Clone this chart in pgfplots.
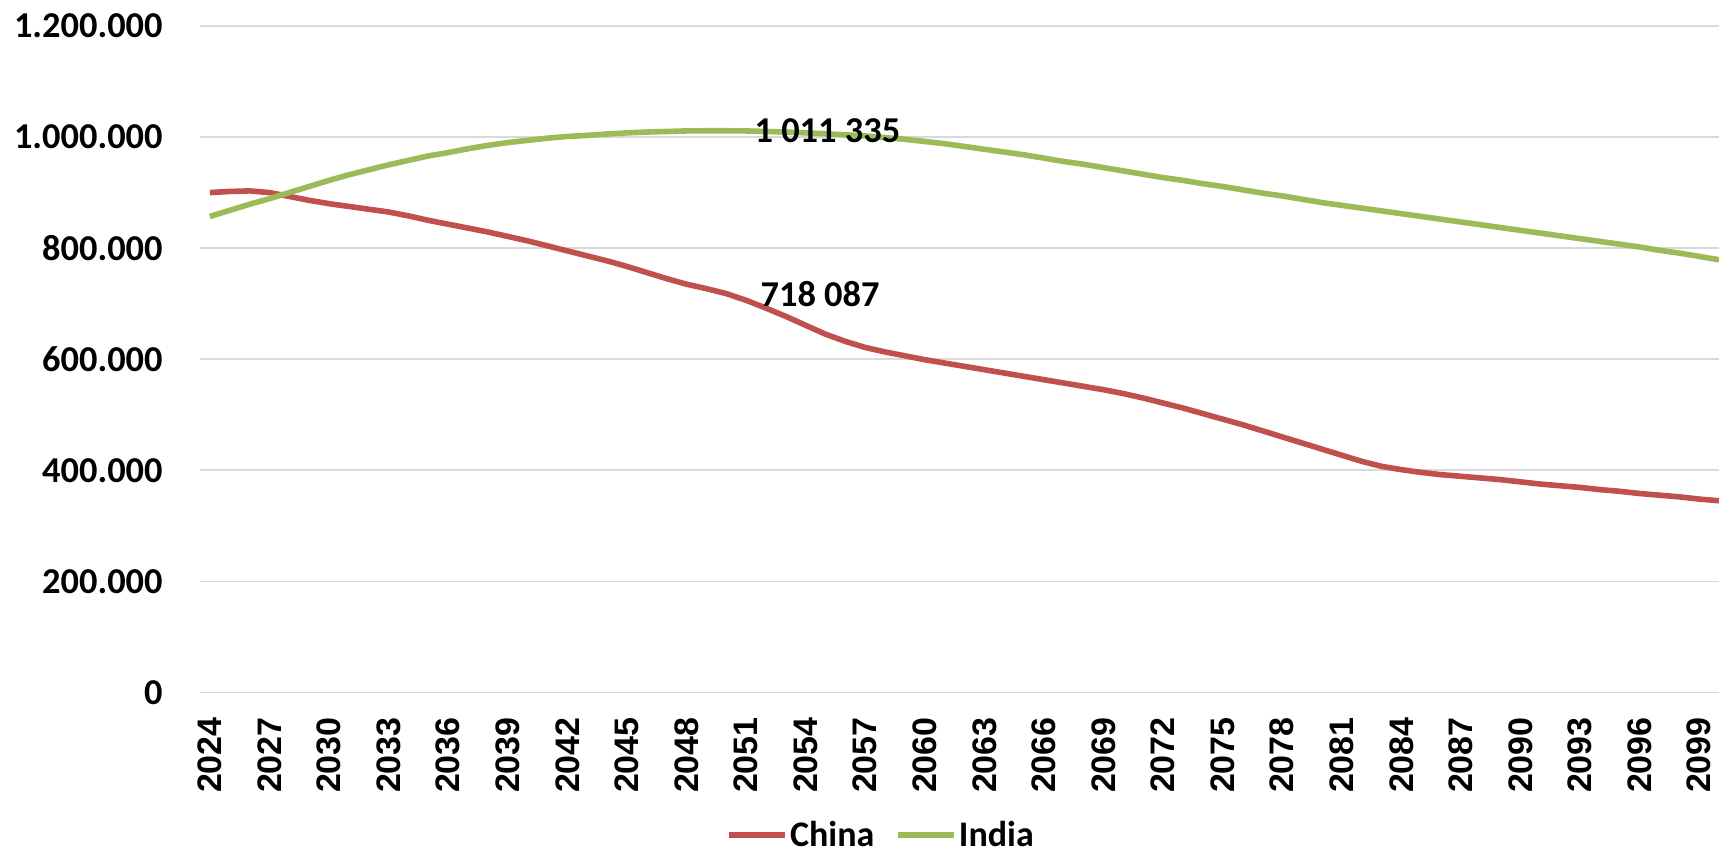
\documentclass[border=0pt]{standalone}
\usepackage{fontspec}
\setmainfont{Carlito}
\newfontfamily\arialfont{Liberation Sans}
\usepackage{pgfplots}
\pgfplotsset{compat=1.18}
\usepackage{pgfplotstable}

\definecolor{chinared}{HTML}{C0504D}
\definecolor{indiagreen}{HTML}{9BBB59}
\definecolor{gridgray}{HTML}{D9D9D9}

% population, thousands
\pgfplotstableread{
year china india
2024 900000 857000
2025 902000 868000
2026 903000 879000
2027 900000 889000
2028 893000 900000
2029 886000 911000
2030 880000 922000
2031 875000 932000
2032 870000 941000
2033 865000 950000
2034 858000 958000
2035 850000 966000
2036 843000 972000
2037 836000 979000
2038 829000 985000
2039 821000 990000
2040 813000 994000
2041 804000 998000
2042 795000 1001000
2043 786000 1003000
2044 777000 1005500
2045 767000 1007500
2046 756000 1009000
2047 745000 1010000
2048 735000 1011000
2049 727000 1011300
2050 718087 1011335
2051 706000 1011000
2052 692000 1010000
2053 677000 1009000
2054 661000 1007500
2055 645000 1006000
2056 632000 1004000
2057 621000 1002000
2058 613000 999000
2059 606000 996000
2060 599000 992000
2061 593000 988000
2062 587000 983000
2063 581000 978000
2064 575000 973000
2065 569000 968000
2066 563000 962000
2067 557000 956000
2068 551000 951000
2069 545000 945000
2070 538000 939000
2071 530000 933000
2072 521000 927000
2073 512000 922000
2074 502000 916000
2075 492000 911000
2076 482000 905000
2077 471000 899000
2078 460000 894000
2079 449000 888000
2080 438000 882000
2081 427000 877000
2082 416000 872000
2083 407000 867000
2084 401000 862000
2085 396000 857000
2086 392000 852000
2087 389000 847000
2088 386000 842000
2089 383000 837000
2090 379000 832000
2091 375000 827000
2092 372000 822000
2093 369000 817000
2094 365000 812000
2095 362000 807000
2096 358000 802000
2097 355000 796000
2098 352000 791000
2099 348000 785000
2100 345000 779000
}\popdata

\begin{document}
\begin{tikzpicture}
\useasboundingbox (0,0) rectangle (859.5bp,426.5bp);
\begin{axis}[
  at={(100bp,80.35bp)}, anchor=south west,
  scale only axis, width=759.5bp, height=333.15bp,
  xmin=2023.5, xmax=2100,
  ymin=0, ymax=1200000,
  xtick={2024,2027,...,2099},
  ytick={0,200000,...,1200000},
  scaled y ticks=false,
  axis line style={draw=none},
  major tick length=0pt,
  ymajorgrids,
  grid style={gridgray, line width=0.7bp},
  /pgf/number format/assume math mode=true,
  yticklabel style={font=\bfseries\fontsize{18.2bp}{20bp}\selectfont,
    /pgf/number format/.cd, fixed, precision=0, 1000 sep={.}, /tikz/.cd,
    anchor=east, inner sep=0pt, xshift=-18.5bp},
  xticklabel style={font=\arialfont\bfseries\fontsize{17bp}{19bp}\selectfont,
    /pgf/number format/1000 sep={},
    yshift=-12.3bp, rotate=90, anchor=east, inner sep=0pt},
  legend style={draw=none, fill=none, at={(axis description cs:0.3463,-0.2140)},
    anchor=west, legend columns=-1, inner sep=0pt,
    font=\bfseries\fontsize{18bp}{20bp}\selectfont,
    nodes={inner sep=1bp},
    /tikz/every even column/.append style={column sep=9.5bp}},
  legend image code/.code={\draw[#1, line width=2.8bp] (0bp,0bp) -- (28bp,0bp);},
]
\addplot[chinared, line width=2.8bp, line join=round] table[x=year, y=china] {\popdata};
\addlegendentry{China}
\addplot[indiagreen, line width=2.8bp, line join=round] table[x=year, y=india] {\popdata};
\addlegendentry{India}
\addplot[draw=none, forget plot, nodes near coords, point meta=explicit symbolic,
  nodes near coords style={anchor=west, inner sep=0pt, xshift=14bp,
    font=\bfseries\fontsize{18.2bp}{20bp}\selectfont}]
  coordinates {(2050,1011335) [1 011 335]};
\addplot[draw=none, forget plot, nodes near coords, point meta=explicit symbolic,
  nodes near coords style={anchor=west, inner sep=0pt, xshift=17bp,
    font=\bfseries\fontsize{18.2bp}{20bp}\selectfont}]
  coordinates {(2050,718087) [718 087]};
\end{axis}
\end{tikzpicture}
\end{document}
